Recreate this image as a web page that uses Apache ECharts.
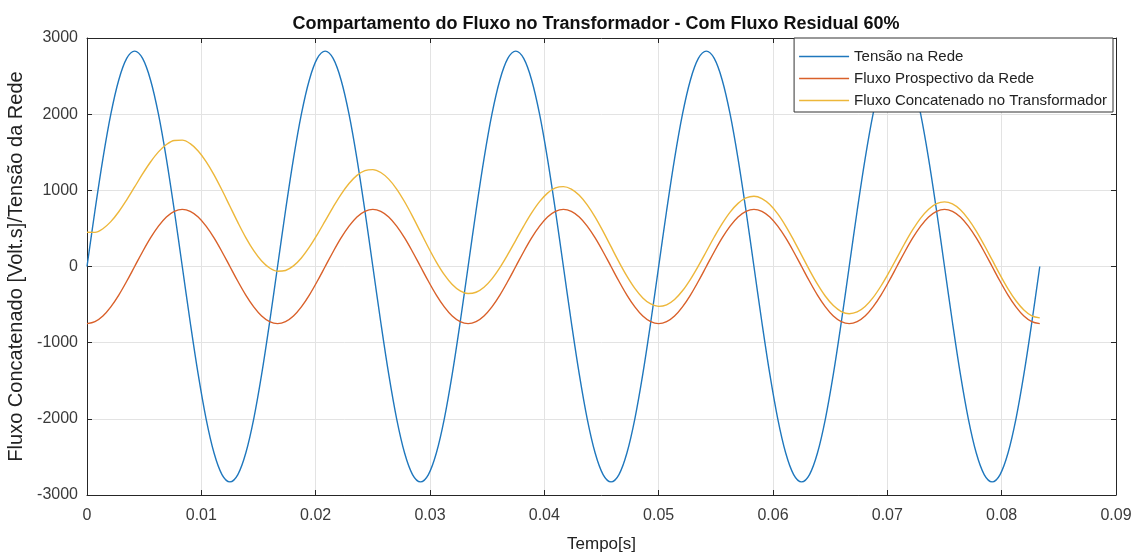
<!DOCTYPE html>
<html>
<head>
<meta charset="utf-8">
<script src="https://cdn.jsdelivr.net/npm/echarts@6/dist/echarts.min.js"></script>
<style>
  html, body { margin: 0; padding: 0; background: #ffffff; }
  #chart { width: 1146px; height: 552px; }
</style>
</head>
<body>
<div id="chart"></div>
<script>
// Sampling: 60 Hz, one sample every 15 degrees (1/1440 s), 5 cycles -> 121 samples
const sampleStep = 1 / 1440;
const sampleCount = 121;

// Grid voltage [V]
const tensaoRede = [
  0, 732, 1414, 2000, 2449, 2732, 2828, 2732, 2449, 2000, 1414, 732,
  0, -732, -1414, -2000, -2449, -2732, -2828, -2732, -2449, -2000, -1414, -732,
  0, 732, 1414, 2000, 2449, 2732, 2828, 2732, 2449, 2000, 1414, 732,
  0, -732, -1414, -2000, -2449, -2732, -2828, -2732, -2449, -2000, -1414, -732,
  0, 732, 1414, 2000, 2449, 2732, 2828, 2732, 2449, 2000, 1414, 732,
  0, -732, -1414, -2000, -2449, -2732, -2828, -2732, -2449, -2000, -1414, -732,
  0, 732, 1414, 2000, 2449, 2732, 2828, 2732, 2449, 2000, 1414, 732,
  0, -732, -1414, -2000, -2449, -2732, -2828, -2732, -2449, -2000, -1414, -732,
  0, 732, 1414, 2000, 2449, 2732, 2828, 2732, 2449, 2000, 1414, 732,
  0, -732, -1414, -2000, -2449, -2732, -2828, -2732, -2449, -2000, -1414, -732,
  0
];

// Prospective (steady-state) flux of the grid
const fluxoProspectivo = [
  -750, -724, -650, -530, -375, -194, 0, 194, 375, 530, 650, 724,
  750, 724, 650, 530, 375, 194, 0, -194, -375, -530, -650, -724,
  -750, -724, -650, -530, -375, -194, 0, 194, 375, 530, 650, 724,
  750, 724, 650, 530, 375, 194, 0, -194, -375, -530, -650, -724,
  -750, -724, -650, -530, -375, -194, 0, 194, 375, 530, 650, 724,
  750, 724, 650, 530, 375, 194, 0, -194, -375, -530, -650, -724,
  -750, -724, -650, -530, -375, -194, 0, 194, 375, 530, 650, 724,
  750, 724, 650, 530, 375, 194, 0, -194, -375, -530, -650, -724,
  -750, -724, -650, -530, -375, -194, 0, 194, 375, 530, 650, 724,
  750, 724, 650, 530, 375, 194, 0, -194, -375, -530, -650, -724,
  -750
];

// Linked flux in the transformer (with 60% residual flux, decaying offset)
const fluxoConcatenado = [
  450, 448, 496, 589, 719, 875, 1044, 1215, 1372, 1505, 1602, 1655,
  1659, 1613, 1517, 1378, 1204, 1004, 791, 579, 380, 208, 72, -20,
  -62, -52, 8, 112, 253, 419, 599, 780, 947, 1089, 1196, 1258,
  1272, 1234, 1147, 1017, 850, 659, 454, 249, 58, -107, -236, -320,
  -355, -338, -272, -162, -15, 158, 344, 530, 703, 851, 963, 1031,
  1049, 1017, 935, 809, 648, 461, 260, 60, -126, -287, -412, -492,
  -523, -503, -433, -319, -168, 8, 197, 387, 563, 714, 829, 900,
  922, 892, 813, 690, 531, 347, 149, -48, -232, -391, -513, -591,
  -620, -597, -525, -409, -256, -78, 113, 305, 483, 636, 753, 825,
  848, 821, 744, 622, 465, 282, 86, -110, -293, -450, -571, -648,
  -675
];

const seriesNames = [
  'Tensão na Rede',
  'Fluxo Prospectivo da Rede',
  'Fluxo Concatenado no Transformador'
];
const seriesColors = ['#1f77bd', '#d9602a', '#edb73a'];

const tempo = Array.from({ length: sampleCount }, (_, k) => k * sampleStep);
const pairs = (vals) => vals.map((v, k) => [tempo[k], v]);

const fontFamily = '"Liberation Sans", Arial, Helvetica, sans-serif';
const axisColor = '#262626';
const labelColor = '#3a3a3a';
const gridColor = '#e3e3e3';

const chart = echarts.init(document.getElementById('chart'), null, { renderer: 'canvas' });

const hiddenAxisCommon = {
  axisLabel: { show: false },
  splitLine: { show: false },
  axisLine: { show: true, onZero: false, lineStyle: { color: axisColor, width: 1 } },
  axisTick: { show: true, inside: true, length: 5, lineStyle: { color: axisColor } }
};

chart.setOption({
  backgroundColor: '#ffffff',
  animation: false,
  textStyle: { fontFamily },
  title: {
    text: 'Compartamento do Fluxo no Transformador - Com Fluxo Residual 60%',
    left: 591,
    textAlign: 'center',
    top: 10,
    textStyle: { fontFamily, fontSize: 18, fontWeight: 'bold', color: '#111111' }
  },
  legend: {
    orient: 'vertical',
    right: 33,
    top: 38,
    data: seriesNames,
    icon: 'rect',
    itemWidth: 50,
    itemHeight: 1.4,
    itemGap: 5,
    padding: [10, 6, 3, 5],
    backgroundColor: '#ffffff',
    borderColor: '#333333',
    borderWidth: 1,
    borderRadius: 0,
    textStyle: { fontFamily, fontSize: 15, color: '#222222', lineHeight: 17 }
  },
  grid: {
    left: 87, right: 30, top: 38, bottom: 57,
    containLabel: false,
    outerBoundsMode: 'none'
  },
  xAxis: [
    {
      type: 'value',
      min: 0,
      max: 0.09,
      interval: 0.01,
      position: 'bottom',
      name: 'Tempo[s]',
      nameLocation: 'middle',
      nameGap: 41,
      nameTextStyle: { fontFamily, fontSize: 17, color: '#222222' },
      axisLine: { show: true, onZero: false, lineStyle: { color: axisColor, width: 1 } },
      axisTick: { show: true, inside: true, length: 5, lineStyle: { color: axisColor } },
      axisLabel: { fontFamily, fontSize: 16, color: labelColor, margin: 13 },
      splitLine: { show: true, lineStyle: { color: gridColor, width: 1 } }
    },
    Object.assign({
      type: 'value', min: 0, max: 0.09, interval: 0.01, position: 'top'
    }, hiddenAxisCommon)
  ],
  yAxis: [
    {
      type: 'value',
      min: -3000,
      max: 3000,
      interval: 1000,
      position: 'left',
      name: 'Fluxo Concatenado [Volt.s]/Tensão da Rede',
      nameLocation: 'middle',
      nameRotate: 90,
      nameGap: 53,
      nameTextStyle: { fontFamily, fontSize: 20, color: '#222222' },
      axisLine: { show: true, onZero: false, lineStyle: { color: axisColor, width: 1 } },
      axisTick: { show: true, inside: true, length: 5, lineStyle: { color: axisColor } },
      axisLabel: {
        fontFamily, fontSize: 16, color: labelColor, margin: 9,
        padding: [7, 0, 0, 0],
        formatter: (v) => String(v)
      },
      splitLine: { show: true, lineStyle: { color: gridColor, width: 1 } }
    },
    Object.assign({
      type: 'value', min: -3000, max: 3000, interval: 1000, position: 'right'
    }, hiddenAxisCommon)
  ],
  series: [tensaoRede, fluxoProspectivo, fluxoConcatenado].map((vals, i) => ({
    name: seriesNames[i],
    type: 'line',
    xAxisIndex: 0,
    yAxisIndex: 0,
    data: pairs(vals),
    showSymbol: false,
    symbol: 'none',
    smooth: 0.35,
    color: seriesColors[i],
    lineStyle: { color: seriesColors[i], width: 1.4 }
  }))
});
</script>
</body>
</html>
